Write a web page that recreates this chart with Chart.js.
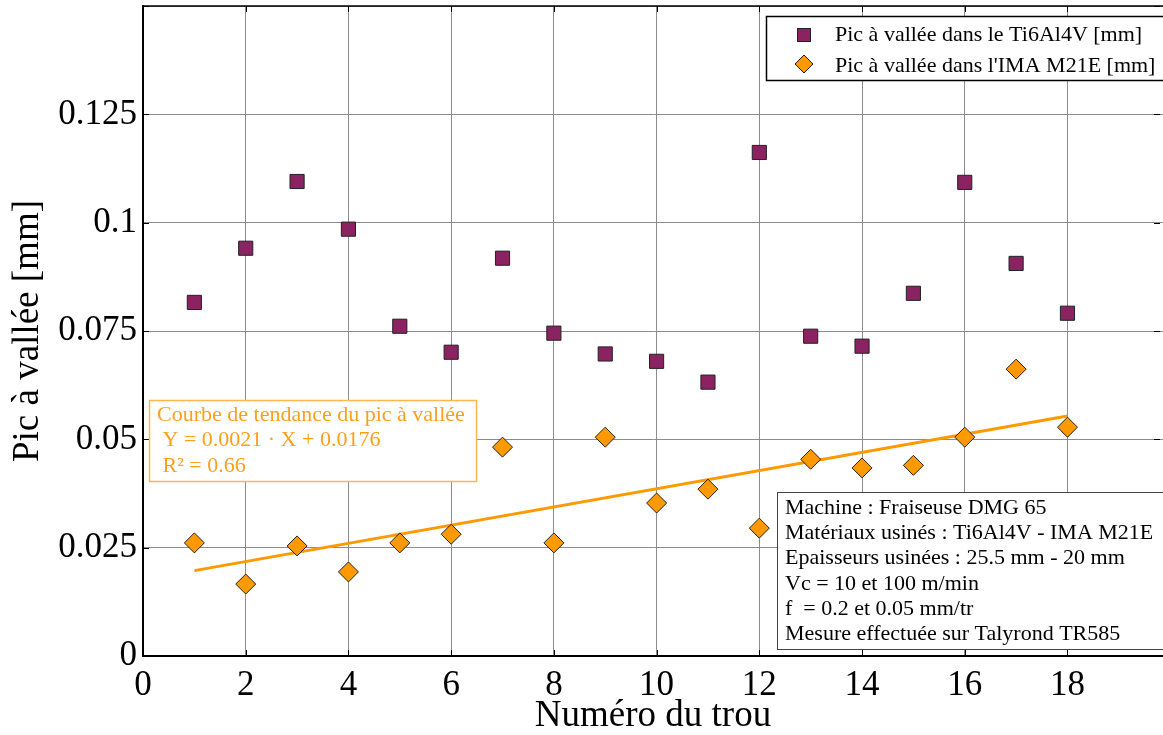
<!DOCTYPE html>
<html>
<head>
<meta charset="utf-8">
<script src="https://cdn.jsdelivr.net/npm/chart.js@4/dist/chart.umd.min.js"></script>
<style>
  html, body { margin: 0; padding: 0; background: #fff; }
  #wrap { width: 1163px; height: 735px; }
</style>
</head>
<body>
<div id="wrap"><canvas id="scatterChart" width="1163" height="735"></canvas></div>
<script>
// hole numbers
var holes = [1, 2, 3, 4, 5, 6, 7, 8, 9, 10, 11, 12, 13, 14, 15, 16, 17, 18];
// peak to valley in Ti6Al4V [mm]
var ti6al4v = [0.0816, 0.0941, 0.1095, 0.0985, 0.0761, 0.0701, 0.0918, 0.0745, 0.0697,
               0.0680, 0.0632, 0.1162, 0.0738, 0.0715, 0.0837, 0.1093, 0.0906, 0.0791];
// peak to valley in IMA M21E [mm]
var imaM21e = [0.0261, 0.0166, 0.0254, 0.0194, 0.0261, 0.0281, 0.0482, 0.0261, 0.0505,
               0.0353, 0.0385, 0.0295, 0.0454, 0.0434, 0.0440, 0.0505, 0.0662, 0.0528];
// trend line end points
var trendX = [1, 18];
var trendY = [0.0197, 0.0554];

var seriesNames = ["Pic à vallée dans le Ti6Al4V [mm]", "Pic à vallée dans l'IMA M21E [mm]"];
var trendText = ["Courbe de tendance du pic à vallée", " Y = 0.0021 · X + 0.0176", " R² = 0.66"];
var infoText = ["Machine : Fraiseuse DMG 65",
                "Matériaux usinés : Ti6Al4V - IMA M21E",
                "Epaisseurs usinées : 25.5 mm - 20 mm",
                "Vc = 10 et 100 m/min",
                "f  = 0.2 et 0.05 mm/tr",
                "Mesure effectuée sur Talyrond TR585"];

var purple = '#8b2262';
var orange = '#ff9900';
var serif = '"Liberation Serif", "DejaVu Serif", serif';

function pts(xs, ys) {
    return xs.map(function (x, i) { return {x: x, y: ys[i]}; });
}

var decorPlugin = {
    id: 'decor',
    afterDraw: function (chart) {
        var ctx = chart.ctx;
        var a = chart.chartArea;
        var xs = chart.scales.x, ys = chart.scales.y;
        ctx.save();
        // top border
        ctx.strokeStyle = '#000';
        ctx.lineWidth = 1.5;
        ctx.beginPath();
        ctx.moveTo(a.left, a.top);
        ctx.lineTo(a.right, a.top);
        ctx.stroke();
        // inward tick marks
        ctx.lineWidth = 1;
        xs.ticks.forEach(function (t) {
            var px = Math.round(xs.getPixelForValue(t.value)) + 0.5;
            ctx.beginPath();
            ctx.moveTo(px, a.bottom); ctx.lineTo(px, a.bottom - 6);
            ctx.moveTo(px, a.top); ctx.lineTo(px, a.top + 6);
            ctx.stroke();
        });
        ys.ticks.forEach(function (t) {
            var py = Math.round(ys.getPixelForValue(t.value)) + 0.5;
            ctx.beginPath();
            ctx.moveTo(a.left, py); ctx.lineTo(a.left + 6, py);
            ctx.moveTo(a.right - 3, py); ctx.lineTo(a.right - 9, py);
            ctx.stroke();
        });

        // legend box
        ctx.fillStyle = '#fff';
        ctx.fillRect(766, 16, 420, 64);
        ctx.strokeStyle = '#000';
        ctx.lineWidth = 1.5;
        ctx.strokeRect(766.5, 16.5, 420, 64);
        ctx.font = '22px ' + serif;
        ctx.textBaseline = 'middle';
        ctx.textAlign = 'left';
        ctx.fillStyle = '#000';
        ctx.fillText(seriesNames[0], 835, 35);
        ctx.fillText(seriesNames[1], 835, 66);
        ctx.lineWidth = 1;
        ctx.strokeStyle = '#222';
        ctx.fillStyle = purple;
        ctx.fillRect(797, 28, 13, 13);
        ctx.strokeRect(797.5, 28.5, 13, 13);
        ctx.fillStyle = orange;
        ctx.beginPath();
        ctx.moveTo(804, 55); ctx.lineTo(813, 64); ctx.lineTo(804, 73); ctx.lineTo(795, 64);
        ctx.closePath();
        ctx.fill(); ctx.stroke();

        // trend box
        ctx.fillStyle = '#fff';
        ctx.fillRect(149, 400, 327, 81);
        ctx.strokeStyle = '#ffb74d';
        ctx.lineWidth = 1.5;
        ctx.strokeRect(149.5, 400.5, 327, 81);
        ctx.fillStyle = '#ff9f1a';
        ctx.font = '22px ' + serif;
        trendText.forEach(function (s, i) {
            ctx.fillText(s, 157, 415 + i * 25.5);
        });

        // info box
        ctx.fillStyle = '#fff';
        ctx.fillRect(777, 492, 400, 157);
        ctx.strokeStyle = '#444';
        ctx.lineWidth = 1;
        ctx.strokeRect(777.5, 492.5, 400, 157);
        ctx.fillStyle = '#000';
        infoText.forEach(function (s, i) {
            ctx.fillText(s, 785, 508 + i * 25.3);
        });
        ctx.restore();
    }
};

var scatterData = {
    datasets: [
        {
            label: seriesNames[0],
            data: pts(holes, ti6al4v),
            pointStyle: 'rect',
            pointRadius: 10,
            backgroundColor: purple,
            borderColor: '#222',
            borderWidth: 1
        },
        {
            label: seriesNames[1],
            data: pts(holes, imaM21e),
            pointStyle: 'rectRot',
            pointRadius: 10,
            backgroundColor: orange,
            borderColor: '#222',
            borderWidth: 1
        },
        {
            label: 'Tendance',
            data: pts(trendX, trendY),
            showLine: true,
            pointRadius: 0,
            borderColor: orange,
            borderWidth: 3,
            fill: false
        }
    ]
};

var scatterOptions = {
    responsive: false,
    animation: false,
    layout: {autoPadding: false, padding: {top: 6, right: 0, left: 0, bottom: 0}},
    plugins: {legend: {display: false}, tooltip: {enabled: false}},
    scales: {
        x: {
            type: 'linear',
            min: 0,
            max: 19.86,
            border: {color: '#000', width: 2},
            grid: {color: '#8c8c8c', lineWidth: 1, drawTicks: false, borderDash: [2, 1]},
            ticks: {color: '#000', padding: 9, font: {family: serif, size: 35}, maxRotation: 0},
            afterBuildTicks: function (s) {
                var t = [];
                for (var v = 0; v <= s.max; v += 2) t.push({value: v});
                s.ticks = t;
            },
            afterFit: function (s) { s.height = 79; s.paddingLeft = 0; s.paddingRight = 0; },
            title: {display: true, text: 'Numéro du trou', color: '#000',
                    font: {family: serif, size: 37, lineHeight: 1.0}, padding: {top: 0, bottom: 0}}
        },
        y: {
            min: 0,
            max: 0.15,
            border: {color: '#000', width: 2},
            grid: {color: '#8c8c8c', lineWidth: 1, drawTicks: false, borderDash: [2, 1]},
            ticks: {
                stepSize: 0.025, color: '#000', padding: 6, font: {family: serif, size: 35},
                callback: function (v) {
                    if (Math.abs(v - 0.15) < 1e-9) return '';
                    return String(+v.toFixed(4));
                }
            },
            afterFit: function (s) { s.width = 143; s.paddingTop = 0; s.paddingBottom = 0; },
            title: {display: true, text: 'Pic à vallée [mm]', color: '#000',
                    font: {family: serif, size: 37, lineHeight: 1.2}, padding: {top: 6, bottom: 0}}
        }
    }
};

var ctx1 = document.getElementById("scatterChart").getContext("2d");
new Chart(ctx1, {type: 'scatter', data: scatterData, options: scatterOptions, plugins: [decorPlugin]});
</script>
</body>
</html>
